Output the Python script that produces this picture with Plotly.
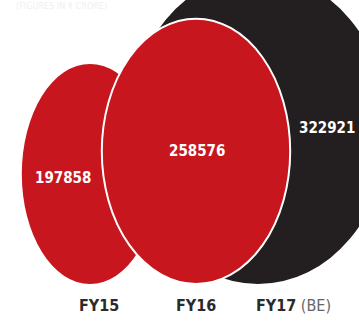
import plotly.graph_objects as go

# ---- data ----
categories = ["FY15", "FY16", "FY17"]
category_suffix = ["", "", " (BE)"]
values = [197858, 258576, 322921]
note_text = "(FIGURES IN ₹ CRORE)"

# ---- layout / style constants ----
W, H = 359, 321
fill_colors = ["#c8161e", "#c8161e", "#231f20"]
line_colors = [None, "#ffffff", None]
centers_x = [90, 196, 258]
aspects = [0.62, 0.71, 0.84]
baseline = 284          # common bottom of the bubbles (px)
ry_max = 155            # half-height of the biggest bubble (px)
exponent = 0.7
value_label_pos = [(63, 178), (197, 151), (327, 128)]
cat_label_y = 305
cat_label_x = [99, 196, 293]
draw_order = [2, 0, 1]
FONT = "Liberation Sans Narrow, DejaVu Sans Condensed, Arial Narrow, sans-serif"

vmax = max(values)
shapes = []
for i in draw_order:
    v = values[i]
    ry = ry_max * (v / vmax) ** exponent
    rx = ry * aspects[i]
    cx = centers_x[i]
    cy = baseline - ry
    shp = dict(type="circle", xref="x", yref="y",
               x0=cx - rx, x1=cx + rx, y0=cy - ry, y1=cy + ry,
               fillcolor=fill_colors[i], layer="below")
    if line_colors[i]:
        shp["line"] = dict(color=line_colors[i], width=2)
    else:
        shp["line"] = dict(width=0)
    shapes.append(shp)

annotations = []
for i, v in enumerate(values):
    x, y = value_label_pos[i]
    annotations.append(dict(x=x, y=y, xref="x", yref="y", text=f"<b>{v}</b>",
                            showarrow=False,
                            font=dict(family=FONT, size=15, color="#ffffff")))
for i, c in enumerate(categories):
    suffix = category_suffix[i]
    txt = f"<b>{c}</b>"
    if suffix:
        txt += f"<span style='color:#666666'>{suffix}</span>"
    annotations.append(dict(x=cat_label_x[i], y=cat_label_y, xref="x", yref="y",
                            text=txt, showarrow=False,
                            font=dict(family=FONT, size=16, color="#2b2b2b")))
annotations.append(dict(x=14, y=6, xref="x", yref="y", text=note_text,
                        showarrow=False, xanchor="left",
                        font=dict(family=FONT, size=9, color="#f0f0f0")))

fig = go.Figure(go.Scatter(x=[], y=[]))
fig.update_layout(
    width=W, height=H,
    margin=dict(l=0, r=0, t=0, b=0),
    paper_bgcolor="white", plot_bgcolor="white",
    xaxis=dict(range=[0, W], visible=False, fixedrange=True),
    yaxis=dict(range=[H, 0], visible=False, fixedrange=True),
    shapes=shapes, annotations=annotations, showlegend=False,
)
fig.write_html("out.html")
